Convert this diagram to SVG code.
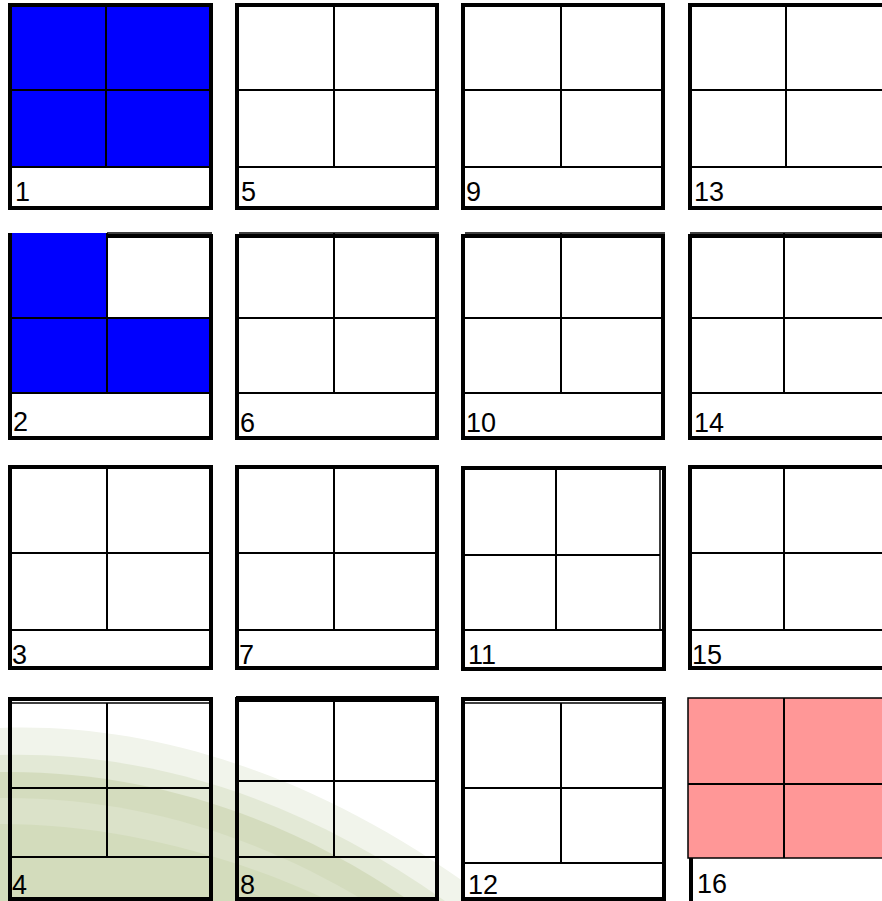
<svg xmlns="http://www.w3.org/2000/svg" width="882" height="901" viewBox="0 0 882 901">
<style>
.o{fill:none;stroke:#000;stroke-width:4}
.g{stroke:#000;stroke-width:2;fill:none}
.t{stroke:#000;stroke-width:1.5;fill:none}
.l{font-family:"Liberation Sans",Arial,sans-serif;font-size:27px;fill:#000}
.b{fill:#0000ff}
.p{fill:#ff9797}
</style>
<rect width="882" height="901" fill="#fff"/>
<g id="background">
<path d="M0,728 C160,722 330,780 490,901 L0,901 Z" fill="#f1f4eb"/>
<path d="M0,755 C150,751 300,798 445,901 L0,901 Z" fill="#e3e9d6"/>
<path d="M0,772 C140,770 280,812 410,901 L0,901 Z" fill="#d4dcbe"/>
<path d="M0,798 C130,797 250,832 365,901 L0,901 Z" fill="#dbe2c9"/>
<path d="M0,824 C110,824 225,852 330,901 L0,901 Z" fill="#d3dcbc"/>
</g>
<g id="box1">
<rect class="b" x="10" y="5" width="201" height="162"/>
<line class="g" x1="106" y1="5" x2="106" y2="167"/>
<line class="g" x1="10" y1="90" x2="211" y2="90"/>
<line class="g" x1="10" y1="167" x2="211" y2="167"/>
<rect class="o" x="10" y="5" width="201" height="203"/>
<text class="l" x="15" y="201">1</text>
</g>
<g id="box2">
<rect class="b" x="10" y="233" width="97" height="85"/>
<rect class="b" x="10" y="318" width="201" height="75"/>
<line class="t" x1="107" y1="233" x2="212" y2="233"/>
<line class="g" x1="107" y1="233" x2="107" y2="393"/>
<line class="g" x1="10" y1="318" x2="211" y2="318"/>
<line class="g" x1="10" y1="393" x2="211" y2="393"/>
<path class="o" d="M107,236 H211 V438 H10 V233"/>
<line stroke="#000" stroke-width="4" x1="10" y1="233" x2="10" y2="438"/>
<text class="l" x="13" y="431">2</text>
</g>
<g id="box3">
<line class="g" x1="107" y1="467" x2="107" y2="630"/>
<line class="g" x1="10" y1="553" x2="211" y2="553"/>
<line class="g" x1="10" y1="630" x2="211" y2="630"/>
<rect class="o" x="10" y="467" width="201" height="201"/>
<text class="l" x="12" y="664">3</text>
</g>
<g id="box4">
<line class="t" x1="10" y1="703" x2="211" y2="703"/>
<line class="g" x1="107" y1="703" x2="107" y2="857"/>
<line class="g" x1="10" y1="788" x2="211" y2="788"/>
<line class="g" x1="10" y1="857" x2="211" y2="857"/>
<rect class="o" x="10" y="699" width="201" height="200"/>
<text class="l" x="12" y="894">4</text>
</g>
<g id="box5">
<line class="g" x1="334" y1="5" x2="334" y2="167"/>
<line class="g" x1="237" y1="90" x2="437" y2="90"/>
<line class="g" x1="237" y1="167" x2="437" y2="167"/>
<rect class="o" x="237" y="5" width="200" height="203"/>
<text class="l" x="241" y="201">5</text>
</g>
<g id="box6">
<line class="t" x1="239" y1="233" x2="439" y2="233"/>
<line class="g" x1="334" y1="233" x2="334" y2="393"/>
<line class="g" x1="237" y1="318" x2="437" y2="318"/>
<line class="g" x1="237" y1="393" x2="437" y2="393"/>
<rect class="o" x="237" y="236" width="200" height="202"/>
<text class="l" x="240" y="432">6</text>
</g>
<g id="box7">
<line class="g" x1="334" y1="467" x2="334" y2="630"/>
<line class="g" x1="237" y1="553" x2="437" y2="553"/>
<line class="g" x1="237" y1="630" x2="437" y2="630"/>
<rect class="o" x="237" y="467" width="200" height="201"/>
<text class="l" x="239" y="664">7</text>
</g>
<g id="box8">
<line stroke="#000" stroke-width="6" x1="236" y1="699" x2="439" y2="699"/>
<line class="g" x1="334" y1="699" x2="334" y2="857"/>
<line class="g" x1="237" y1="781" x2="437" y2="781"/>
<line class="g" x1="237" y1="857" x2="437" y2="857"/>
<rect class="o" x="237" y="699" width="200" height="200"/>
<text class="l" x="240" y="894">8</text>
</g>
<g id="box9">
<line class="g" x1="561" y1="5" x2="561" y2="167"/>
<line class="g" x1="463" y1="90" x2="663" y2="90"/>
<line class="g" x1="463" y1="167" x2="663" y2="167"/>
<rect class="o" x="463" y="5" width="200" height="203"/>
<text class="l" x="466" y="201">9</text>
</g>
<g id="box10">
<line class="t" x1="465" y1="233" x2="665" y2="233"/>
<line class="g" x1="561" y1="233" x2="561" y2="393"/>
<line class="g" x1="463" y1="318" x2="663" y2="318"/>
<line class="g" x1="463" y1="393" x2="663" y2="393"/>
<rect class="o" x="463" y="236" width="200" height="202"/>
<text class="l" x="466" y="432">10</text>
</g>
<g id="box11">
<line class="g" x1="556" y1="468" x2="556" y2="630"/>
<line class="g" x1="463" y1="555" x2="660" y2="555"/>
<line class="g" x1="463" y1="630" x2="663" y2="630"/>
<line class="t" x1="660" y1="468" x2="660" y2="630"/>
<rect class="o" x="463" y="468" width="201" height="201"/>
<text class="l" x="468" y="664">11</text>
</g>
<g id="box12">
<rect x="463" y="699" width="201" height="200" fill="#fff"/>
<line class="t" x1="463" y1="703" x2="664" y2="703"/>
<line class="g" x1="561" y1="703" x2="561" y2="863"/>
<line class="g" x1="463" y1="788" x2="664" y2="788"/>
<line class="g" x1="463" y1="863" x2="664" y2="863"/>
<rect class="o" x="463" y="699" width="201" height="200"/>
<text class="l" x="468" y="894">12</text>
</g>
<g id="box13">
<line class="g" x1="786" y1="5" x2="786" y2="167"/>
<line class="g" x1="690" y1="90" x2="882" y2="90"/>
<line class="g" x1="690" y1="167" x2="882" y2="167"/>
<rect class="o" x="690" y="5" width="200" height="203"/>
<text class="l" x="694" y="201">13</text>
</g>
<g id="box14">
<line class="t" x1="690" y1="233" x2="882" y2="233"/>
<line class="g" x1="784" y1="233" x2="784" y2="393"/>
<line class="g" x1="690" y1="318" x2="882" y2="318"/>
<line class="g" x1="690" y1="393" x2="882" y2="393"/>
<rect class="o" x="690" y="236" width="200" height="202"/>
<text class="l" x="694" y="432">14</text>
</g>
<g id="box15">
<line class="g" x1="784" y1="467" x2="784" y2="630"/>
<line class="g" x1="690" y1="553" x2="882" y2="553"/>
<line class="g" x1="690" y1="630" x2="882" y2="630"/>
<rect class="o" x="690" y="467" width="200" height="201"/>
<text class="l" x="692" y="664">15</text>
</g>
<g id="box16">
<rect class="p" x="688" y="698" width="200" height="160"/>
<rect x="688" y="698" width="200" height="160" fill="none" stroke="#000" stroke-width="1.5"/>
<line class="g" x1="784" y1="698" x2="784" y2="858"/>
<line class="g" x1="688" y1="784" x2="882" y2="784"/>
<line stroke="#000" stroke-width="4" x1="691" y1="858" x2="691" y2="901"/>
<text class="l" x="697" y="893">16</text>
</g>
</svg>
